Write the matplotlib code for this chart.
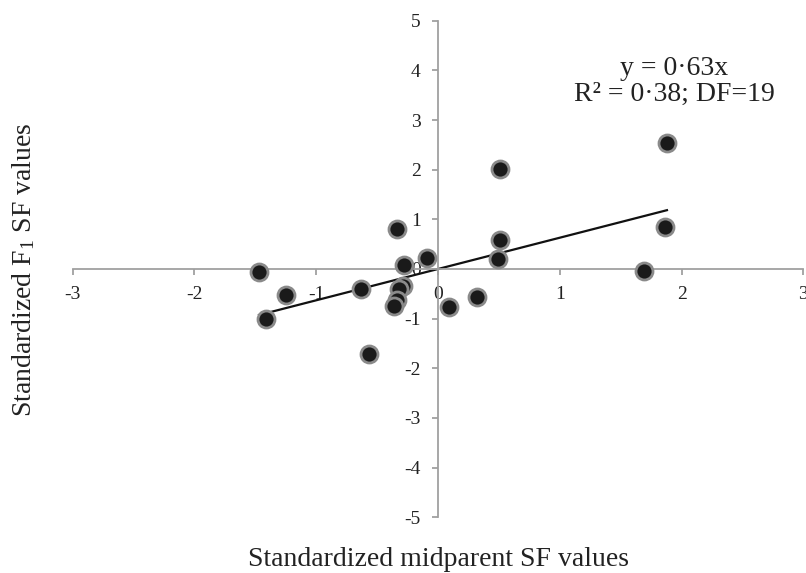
import numpy as np
import matplotlib
matplotlib.use('Agg')
import matplotlib.pyplot as plt

plt.rcParams['font.family'] = ['Liberation Serif', 'DejaVu Serif']
plt.rcParams['axes.unicode_minus'] = False
plt.rcParams['mathtext.fontset'] = 'custom'
plt.rcParams['mathtext.rm'] = 'Liberation Serif'
plt.rcParams['mathtext.default'] = 'rm'

# standardized values
midparent = [-1.47, -1.25, -1.41, -0.63, -0.57, -0.34, -0.28, -0.29, -0.32, -0.34,
             -0.36, -0.09, 0.09, 0.32, 0.51, 0.51, 0.49, 1.88, 1.86, 1.69]
f1 = [-0.07, -0.52, -1.01, -0.41, -1.71, 0.80, 0.08, -0.34, -0.41, -0.63,
      -0.75, 0.22, -0.77, -0.57, 2.01, 0.58, 0.20, 2.54, 0.84, -0.05]
slope = 0.63
eq_text = 'y = 0·63x\nR² = 0·38; DF=19'

fig = plt.figure(figsize=(8.06, 5.73), dpi=100)
ax = fig.add_axes([0.0902, 0.0972, 0.9065, 0.8667])

# trend line through origin over data range
xl = np.array([min(midparent), max(midparent)])
ax.plot(xl, slope * xl, color='#111111', lw=1.6, zorder=2)

ax.scatter(midparent, f1, s=150, facecolor='#1a1a1a', edgecolor='#8a8a8a',
           linewidths=2.0, zorder=3)

ax.set_xlim(-3, 3)
ax.set_ylim(-5, 5)
ax.set_xticks(range(-3, 4))
ax.set_yticks(range(-5, 6))

for s in ['top', 'right']:
    ax.spines[s].set_visible(False)
ax.spines['left'].set_position(('data', 0))
ax.spines['bottom'].set_position(('data', 0))
for s in ['left', 'bottom']:
    ax.spines[s].set_color('#a0a0a0')
    ax.spines[s].set_linewidth(1.3)

ax.tick_params(axis='both', direction='out', length=4.5, width=1.3,
               color='#a0a0a0', labelsize=14, labelcolor='#222222', pad=8)

ax.text(1.94, 3.77, eq_text, ha='center', va='center', fontsize=20,
        color='#222222', linespacing=1.05)

fig.text(0.5435, 0.023, 'Standardized midparent SF values', ha='center',
         va='center', fontsize=20, color='#222222')
fig.text(0.029, 0.529, r'Standardized F$_{1}$ SF values', ha='center',
         va='center', rotation=90, fontsize=20, color='#222222')

fig.savefig('out.png', dpi=100)
